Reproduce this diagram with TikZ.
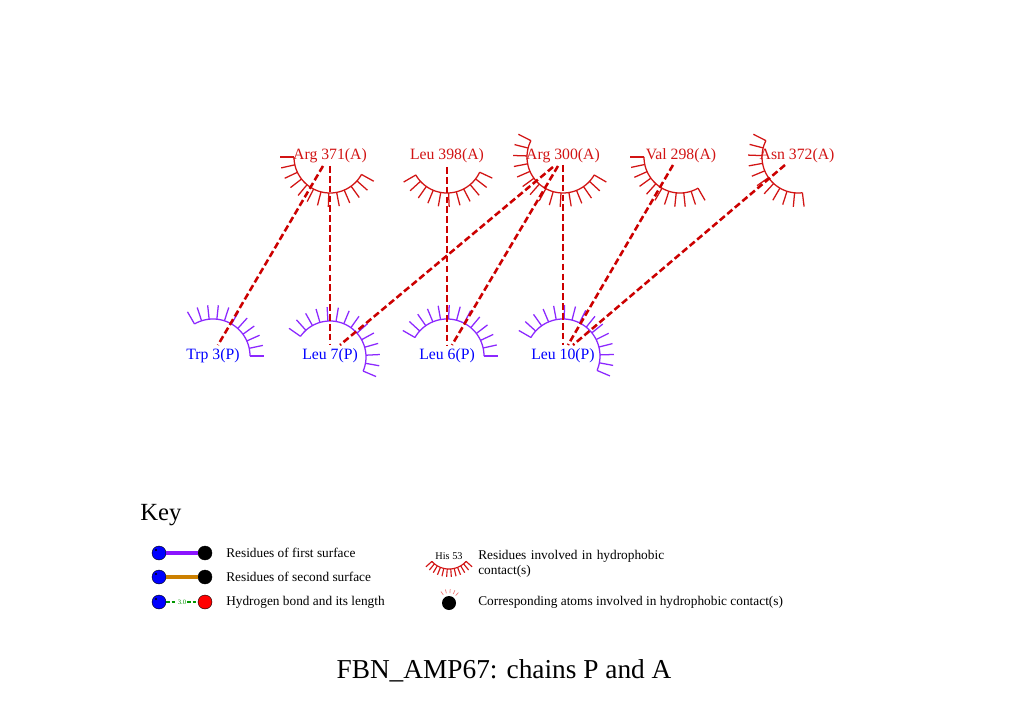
\documentclass[tikz,border=0pt]{standalone}
\usepackage{fontspec}
\setmainfont{Liberation Serif}
\usetikzlibrary{calc}
\definecolor{cred}{RGB}{204,0,0}
\definecolor{tred}{RGB}{210,20,20}
\definecolor{hpurple}{RGB}{140,40,255}
\definecolor{tblue}{RGB}{0,0,255}
\definecolor{korange}{RGB}{204,128,0}
\definecolor{kgreen}{RGB}{0,150,0}
\definecolor{kpurple}{RGB}{140,20,255}
\definecolor{lightred}{RGB}{240,120,120}
\tikzset{
  labA/.style={text=tred, font=\fontsize{11.8}{14}\selectfont, inner sep=0pt},
  labP/.style={text=tblue, font=\fontsize{11.8}{14}\selectfont, inner sep=0pt},
  contact/.style={draw=cred, line width=1.9pt, dash pattern=on 5pt off 2.4pt},
  hydA/.style={draw=tred, line width=0.95pt},
  hydP/.style={draw=hpurple, line width=0.95pt},
  keytext/.style={font=\fontsize{10}{11.3}\selectfont, inner sep=0pt, anchor=west},
  ball/.style={circle, inner sep=0pt, minimum size=10.5pt, draw=black, line width=0.3pt},
}
\newcommand\hydarc[7]{% style, cx, cy, start, end, n, radius
  \draw[#1] plot[domain=#4:#5, samples=60, variable=\t] ({#2+#7*cos(\t)},{#3+#7*sin(\t)});
  \foreach \k in {0,...,#6}{%
    \pgfmathsetmacro\ang{#4+(#5-#4)*\k/#6}%
    \draw[#1] ({#2+#7*cos(\ang)},{#3+#7*sin(\ang)}) -- ({#2+(#7+14)*cos(\ang)},{#3+(#7+14)*sin(\ang)});}%
}
\begin{document}
\begin{tikzpicture}[x=0.75pt, y=-0.75pt]
\fill[white] (0,0) rectangle (1010,720);
\useasboundingbox (0,0) rectangle (1010,720);

% hydrophobic arcs, chain A (top)
\hydarc{hydA}{330}{157}{29}{180}{12}{36}
\hydarc{hydA}{447}{157}{25}{150}{10}{36}
\hydarc{hydA}{563}{157}{30}{207}{14}{36}
\hydarc{hydA}{680}{157}{60}{180}{10}{36}
\hydarc{hydA}{798}{157}{83}{207}{10}{36}
% hydrophobic arcs, chain P (bottom)
\hydarc{hydP}{213}{356}{240}{360}{10}{37}
\hydarc{hydP}{330}{357}{215}{383}{13}{36}
\hydarc{hydP}{447}{356}{210}{360}{12}{37}
\hydarc{hydP}{563}{356}{210}{383}{14}{37}

% residue labels
\node[labA] (r371) at (330,156) {Arg 371(A)};
\node[labA] (r398) at (447,156) {Leu 398(A)};
\node[labA] (r300) at (563,156) {Arg 300(A)};
\node[labA] (r298) at (681,156) {Val 298(A)};
\node[labA] (r372) at (797,156) {Asn 372(A)};
\node[labP] (p3) at (213,356) {Trp 3(P)};
\node[labP] (p7) at (330,356) {Leu 7(P)};
\node[labP] (p6) at (447,356) {Leu 6(P)};
\node[labP] (p10) at (563,356) {Leu 10(P)};

% atom points
\coordinate (a371a) at (323,166);
\coordinate (a371b) at (330,166);
\coordinate (a398) at (447,167);
\coordinate (a300a) at (553,167);
\coordinate (a300b) at (558,166);
\coordinate (a300c) at (563,165);
\coordinate (a298) at (673,165);
\coordinate (a372) at (785,165);
\coordinate (b3) at (218,345);
\coordinate (b7a) at (330,345);
\coordinate (b7b) at (340,345);
\coordinate (b6a) at (447,345);
\coordinate (b6b) at (452,345);
\coordinate (b10a) at (563,345);
\coordinate (b10b) at (568,345);
\coordinate (b10c) at (573,345);

% contacts
\draw[contact] (a371a) -- (b3);
\draw[contact] (a371b) -- (b7a);
\draw[contact] (a398) -- (b6a);
\draw[contact] (a300a) -- (b7b);
\draw[contact] (a300b) -- (b6b);
\draw[contact] (a300c) -- (b10a);
\draw[contact] (a298) -- (b10b);
\draw[contact] (a372) -- (b10c);

% key
\node[font=\fontsize{18.5}{22}\selectfont, inner sep=0pt, anchor=west] (keyt) at (140,515) {Key};

\node[ball, fill=blue] (k1a) at (159,553) {};
\node[ball, fill=black] (k1b) at (205,553) {};
\draw[kpurple, line width=3pt] (k1a) -- (k1b);
\node[ball, fill=blue] (k2a) at (159,577) {};
\node[ball, fill=black] (k2b) at (205,577) {};
\draw[korange, line width=2.6pt] (k2a) -- (k2b);
\node[ball, fill=blue] (k3a) at (159,602) {};
\node[ball, fill=red] (k3b) at (205,602) {};
\node[text=kgreen, font=\fontsize{5}{6}\selectfont, inner sep=0.6pt, fill=white] (k3l) at (182,602) {3.0};
\draw[kgreen, line width=1.2pt, dash pattern=on 2.5pt off 1.5pt] (k3a) -- (k3l);
\draw[kgreen, line width=1.2pt, dash pattern=on 2.5pt off 1.5pt] (k3l) -- (k3b);
\foreach \n in {k1a,k2a,k3a}{\fill[black] (\n) ++(-3,-3) circle[radius=1.1];}

\node[keytext] (kt1) at (226,553) {Residues of first surface};
\node[keytext] (kt2) at (226,577) {Residues of second surface};
\node[keytext] (kt3) at (226,602) {Hydrogen bond and its length};

\node[font=\fontsize{7.7}{9}\selectfont, inner sep=0pt] (khis) at (449,556) {His 53};
\foreach \k in {0,...,11}{%
  \pgfmathsetmacro\ang{42+96*\k/11}%
  \draw[tred, line width=0.85pt] ({449+23*cos(\ang)},{546+23*sin(\ang)}) -- ({449+31*cos(\ang)},{546+31*sin(\ang)});}
\draw[tred, line width=0.85pt] plot[domain=42:138, samples=30, variable=\t] ({449+23*cos(\t)},{546+23*sin(\t)});
\node[keytext, align=left, text width=200pt] (kt4) at (478,563.5) {Residues involved in hydrophobic\\contact(s)};

\node[circle, fill=black, inner sep=0pt, minimum size=10.5pt] (kdot) at (449,603) {};
\foreach \a in {235,255,275,295,312}{%
  \draw[lightred, line width=0.5pt] ($(kdot)+(\a:10)$) -- ($(kdot)+(\a:14)$);}
\node[keytext] (kt5) at (478,602) {Corresponding atoms involved in hydrophobic contact(s)};

% title
\node[font=\fontsize{20.5}{24}\selectfont, inner sep=0pt] (title) at (504,671) {FBN\_AMP67: chains P and A};
\end{tikzpicture}
\end{document}
